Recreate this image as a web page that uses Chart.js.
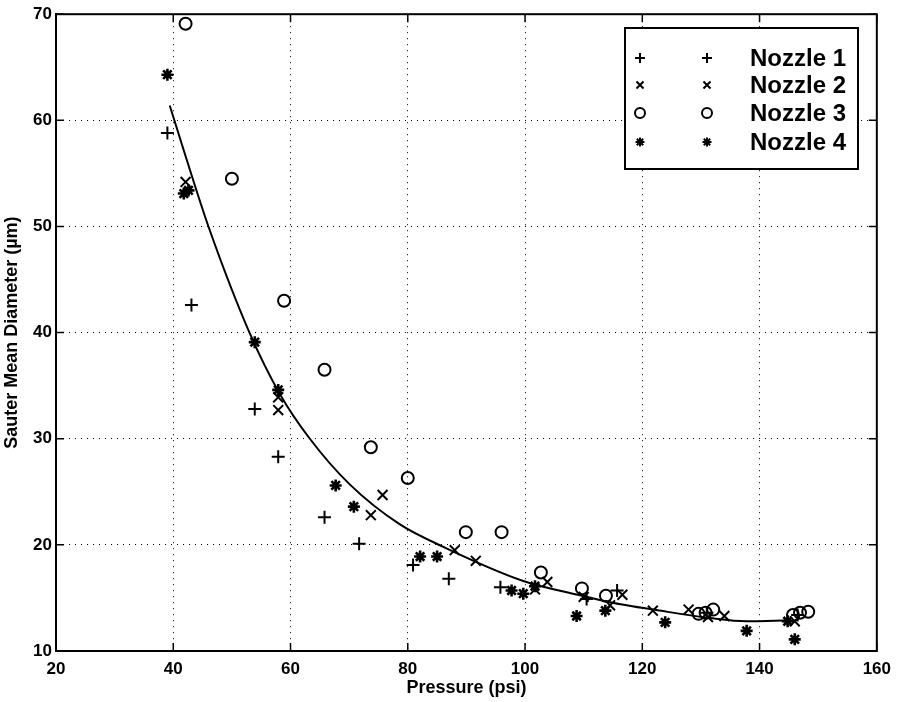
<!DOCTYPE html>
<html lang="en">
<head>
<meta charset="UTF-8">
<title>Sauter Mean Diameter vs Pressure</title>
<script src="https://cdn.jsdelivr.net/npm/chart.js"></script>
<style>
  body { margin: 0; background: #fff; }
  #wrap { width: 899px; height: 702px; }
</style>
</head>
<body>
<div id="wrap"><canvas id="chart" width="899" height="702"></canvas></div>
<script>
// values (pressure in psi, diameter in um)
const nozzle1P = [39, 43.1, 53.9, 57.9, 65.8, 71.7, 80.9, 87, 95.8, 110.5, 115.7, 131, 146.5];
const nozzle1D = [58.8, 42.6, 32.8, 28.3, 22.6, 20.1, 18.1, 16.8, 16.0, 14.9, 15.7, 13.6, 13.4];

const nozzle2P = [42.1, 57.9, 57.9, 73.7, 75.7, 88, 91.6, 101.7, 103.8, 110, 114.5, 116.6, 121.8, 127.9, 131.2, 134, 146];
const nozzle2D = [54.2, 33.9, 32.7, 22.8, 24.7, 19.5, 18.5, 15.8, 16.5, 15.1, 14.3, 15.3, 13.8, 13.9, 13.2, 13.3, 12.8];

const nozzle3P = [42.1, 50, 58.9, 65.8, 73.7, 80, 89.9, 96, 102.7, 109.7, 113.8, 129.6, 130.8, 132.1, 145.7, 146.9, 148.3];
const nozzle3D = [69.1, 54.5, 43.0, 36.5, 29.2, 26.3, 21.2, 21.2, 17.4, 15.9, 15.2, 13.5, 13.6, 13.9, 13.4, 13.6, 13.7];

const nozzle4P = [39, 41.8, 42.6, 53.9, 57.9, 67.7, 70.8, 82.1, 85, 97.7, 99.7, 101.7, 108.8, 113.7, 123.9, 137.8, 144.8, 146];
const nozzle4D = [64.3, 53.1, 53.4, 39.1, 34.6, 25.6, 23.6, 18.9, 18.9, 15.7, 15.4, 16.1, 13.3, 13.8, 12.7, 11.9, 12.8, 11.1];

// fitted curve
const fitP = [39.4, 42, 46, 53, 58.2, 63.3, 70.1, 78.6, 86.5, 99.7, 109, 116.3, 121.9, 131.6, 137.8, 145];
const fitD = [61.4, 56.8, 50, 40, 34.2, 30, 25.7, 21.95, 19.7, 16.6, 15.3, 14.4, 13.9, 13.1, 12.8, 12.9];

const xTicks = [20, 40, 60, 80, 100, 120, 140, 160];
const yTicks = [10, 20, 30, 40, 50, 60, 70];
const legendNames = ['Nozzle 1', 'Nozzle 2', 'Nozzle 3', 'Nozzle 4'];
const markerStyles = ['cross', 'crossRot', 'circle', 'star'];

const FONT = '"Liberation Sans", Arial, sans-serif';
const pts = (xs, ys) => xs.map((x, i) => ({ x: x, y: ys[i] }));

function markerSet(label, xs, ys, style, r, bw) {
  return {
    label: label,
    data: pts(xs, ys),
    showLine: false,
    pointStyle: style,
    pointRadius: r,
    pointBorderWidth: bw,
    pointBorderColor: '#000',
    pointBackgroundColor: 'rgba(0,0,0,0)'
  };
}

// frame box, inward ticks and the legend box
const framePlugin = {
  id: 'frame',
  afterDraw(chart) {
    const ctx = chart.ctx;
    const a = chart.chartArea;
    const xs = chart.scales.x, ys = chart.scales.y;
    ctx.save();
    ctx.strokeStyle = '#000';
    ctx.lineWidth = 2;
    ctx.strokeRect(a.left, a.top, a.right - a.left, a.bottom - a.top);
    ctx.lineWidth = 1.5;
    ctx.beginPath();
    xTicks.forEach(v => {
      const px = xs.getPixelForValue(v);
      ctx.moveTo(px, a.bottom); ctx.lineTo(px, a.bottom - 8);
      ctx.moveTo(px, a.top); ctx.lineTo(px, a.top + 8);
    });
    yTicks.forEach(v => {
      const py = ys.getPixelForValue(v);
      ctx.moveTo(a.left, py); ctx.lineTo(a.left + 8, py);
      ctx.moveTo(a.right, py); ctx.lineTo(a.right - 8, py);
    });
    ctx.stroke();

    // legend
    const lx = 625, ly = 28, lw = 233, lh = 141;
    ctx.fillStyle = '#fff';
    ctx.fillRect(lx, ly, lw, lh);
    ctx.lineWidth = 2;
    ctx.strokeRect(lx, ly, lw, lh);
    const rows = [58, 85, 113, 142];
    const sizes = [5, 5, 5, 4.5];
    ctx.font = 'bold 24px ' + FONT;
    ctx.textBaseline = 'middle';
    ctx.textAlign = 'left';
    legendNames.forEach((name, i) => {
      ctx.strokeStyle = '#000';
      ctx.fillStyle = 'rgba(0,0,0,0)';
      [640, 707].forEach(mx => {
        Chart.helpers.drawPoint(ctx, { pointStyle: markerStyles[i], radius: sizes[i], borderWidth: 2.2, rotation: 0 }, mx, rows[i]);
      });
      ctx.fillStyle = '#000';
      ctx.fillText(name, 750, rows[i] + 1);
    });
    ctx.restore();
  }
};

const config = {
  type: 'scatter',
  data: {
    datasets: [
      {
        label: 'fit',
        data: pts(fitP, fitD),
        showLine: true,
        borderColor: '#000',
        borderWidth: 2,
        pointRadius: 0,
        cubicInterpolationMode: 'monotone'
      },
      markerSet('Nozzle 1', nozzle1P, nozzle1D, 'cross', 6.5, 2),
      markerSet('Nozzle 2', nozzle2P, nozzle2D, 'crossRot', 7, 2),
      markerSet('Nozzle 3', nozzle3P, nozzle3D, 'circle', 6, 2),
      markerSet('Nozzle 4', nozzle4P, nozzle4D, 'star', 6, 2.6)
    ]
  },
  options: {
    responsive: false,
    animation: false,
    layout: { padding: { top: 12, right: 21, left: 0, bottom: 0 } },
    plugins: {
      legend: { display: false },
      tooltip: { enabled: false }
    },
    scales: {
      x: {
        type: 'linear',
        min: 20,
        max: 160,
        afterBuildTicks: s => { s.ticks = xTicks.map(v => ({ value: v })); },
        afterFit: s => { s.height = 51; },
        grid: { color: '#000', lineWidth: 1, drawTicks: false },
        border: { display: true, color: '#000', width: 2, dash: [1, 5] },
        ticks: {
          color: '#000',
          padding: 8,
          font: { family: FONT, size: 17, weight: 'bold' }
        },
        title: {
          display: true,
          text: 'Pressure (psi)',
          color: '#000',
          padding: { top: 2, bottom: 3 },
          font: { family: FONT, size: 18, weight: 'bold' }
        }
      },
      y: {
        type: 'linear',
        min: 10,
        max: 70,
        afterBuildTicks: s => { s.ticks = yTicks.map(v => ({ value: v })); },
        afterFit: s => { s.width = 56; },
        grid: { color: '#000', lineWidth: 1, drawTicks: false },
        border: { display: true, color: '#000', width: 2, dash: [1, 5] },
        ticks: {
          color: '#000',
          padding: 4,
          font: { family: FONT, size: 17, weight: 'bold' }
        },
        title: {
          display: true,
          text: 'Sauter Mean Diameter (µm)',
          color: '#000',
          padding: { top: 1, bottom: 1 },
          font: { family: FONT, size: 18, weight: 'bold' }
        }
      }
    }
  },
  plugins: [framePlugin]
};

const chart = new Chart(document.getElementById('chart'), config);
</script>
</body>
</html>
